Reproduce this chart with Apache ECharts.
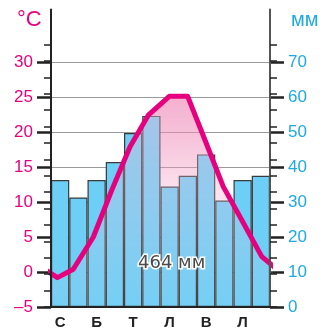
<!DOCTYPE html>
<html>
<head>
<meta charset="utf-8">
<script src="https://cdn.jsdelivr.net/npm/echarts@6/dist/echarts.min.js"></script>
<style>html,body{margin:0;padding:0;background:#fff;}#c{width:320px;height:333px;}</style>
</head>
<body>
<div id="c"></div>
<script>
// Months (Ukrainian initials)
const months = ['С','Л','Б','К','Т','Ч','Л','С','В','Ж','Л','Г'];
// Precipitation, mm
const precipitation = [36.3, 31.3, 36.3, 41.4, 49.7, 54.6, 34.4, 37.5, 43.6, 30.4, 36.3, 37.5];
// Temperature line: position in months along the axis, and value in °C
const tempX = [-0.24, 0.35, 1.22, 2.32, 3.33, 4.33, 5.33, 6.48, 7.49, 8.49, 9.44, 10.52, 11.55, 12.55];
const tempValues = [0.2, -0.8, 0.4, 5.0, 11.7, 17.9, 22.4, 25.1, 25.1, 18.5, 12.2, 7.1, 2.2, 0.0];
// Tick labels
const tempTicks = [-5, 0, 5, 10, 15, 20, 25, 30];
const precipTicks = [0, 10, 20, 30, 40, 50, 60, 70];
const totalLabel = '464 мм';
const tempUnit = '°C';
const precipUnit = 'мм';

const tStep = tempTicks[1] - tempTicks[0];
const pStep = precipTicks[1] - precipTicks[0];
const tMin = tempTicks[0], tMax = tempTicks[tempTicks.length - 1];
const pMin = precipTicks[0], pMax = precipTicks[precipTicks.length - 1];
const tTop = tMax + 1.5 * tStep;   // axis line extends beyond the last label
const pTop = pMax + 1.5 * pStep;

const PINK = '#e6007e';
const BLUE = '#1fa9e1';
const NARROW = '"Liberation Sans Narrow", "Liberation Sans", Arial, sans-serif';

const gridPos = {left: 51, right: 50, bottom: 26};
const chart = echarts.init(document.getElementById('c'), null, {renderer: 'canvas'});

const lineData = tempX.map((x, i) => [x, tempValues[i]]);
const grad = stops => new echarts.graphic.LinearGradient(0, 0, 0, 1, stops);

chart.setOption({
  animation: false,
  backgroundColor: '#fff',
  title: [
    {text: tempUnit, left: 12, top: 4, textStyle: {color: PINK, fontSize: 22, fontWeight: 'normal', fontFamily: NARROW}},
    {text: precipUnit, left: 286, top: 5, textStyle: {color: BLUE, fontSize: 20, fontWeight: 'normal', fontFamily: '"Liberation Sans", Arial, sans-serif'}},
    {text: totalLabel, left: 133, top: 249, z: 20,
     textStyle: {color: '#4a4a4a', fontSize: 18, fontWeight: 'normal', fontFamily: '"DejaVu Sans", sans-serif',
                 textBorderColor: '#fff', textBorderWidth: 3}}
  ],
  grid: [
    Object.assign({top: 9.5}, gridPos),
    Object.assign({top: 44.5}, gridPos),
    Object.assign({top: 62}, gridPos)
  ],
  xAxis: [
    {type: 'category', gridIndex: 0, data: months, boundaryGap: true, z: 5,
     axisLine: {show: true, onZero: false, lineStyle: {color: '#222', width: 2}},
     axisTick: {show: false},
     axisLabel: {interval: 1, color: '#222', fontSize: 15, fontWeight: 'bold', fontFamily: NARROW, margin: 8},
     splitLine: {show: false}},
    {type: 'value', gridIndex: 0, min: 0, max: months.length, show: false},
    {type: 'value', gridIndex: 1, min: 0, max: 1, show: false},
    {type: 'value', gridIndex: 2, min: 0, max: 1, show: false}
  ],
  yAxis: [
    {type: 'value', gridIndex: 0, position: 'left', min: tMin, max: tTop, z: 5,
     axisLine: {show: true, onZero: false, lineStyle: {color: '#222', width: 2}},
     axisTick: {show: false}, axisLabel: {show: false}, splitLine: {show: false}},
    {type: 'value', gridIndex: 0, position: 'right', min: pMin, max: pTop, z: 5,
     axisLine: {show: true, onZero: false, lineStyle: {color: '#555', width: 2}},
     axisTick: {show: false}, axisLabel: {show: false}, splitLine: {show: false}},
    {type: 'value', gridIndex: 1, position: 'left', min: tMin, max: tMax + tStep, interval: tStep / 2, z: 5,
     axisLine: {show: false}, axisTick: {show: true, length: 7, lineStyle: {color: '#222', width: 1.5}},
     axisLabel: {show: false}, splitLine: {show: false}},
    {type: 'value', gridIndex: 1, position: 'right', min: pMin, max: pMax + pStep, interval: pStep / 2, z: 5,
     axisLine: {show: false}, axisTick: {show: true, length: 7, lineStyle: {color: '#222', width: 1.5}},
     axisLabel: {show: false}, splitLine: {show: false}},
    {type: 'value', gridIndex: 2, position: 'left', min: tMin, max: tMax, interval: tStep, z: 0,
     axisLine: {show: false}, axisTick: {show: true, length: 14, lineStyle: {color: '#222', width: 2.5}},
     axisLabel: {color: PINK, fontSize: 17, fontFamily: NARROW, margin: 18,
                 formatter: v => v < 0 ? '–' + Math.abs(v) : String(v)},
     splitLine: {show: true, lineStyle: {color: '#9a9a9a', width: 1}}},
    {type: 'value', gridIndex: 2, position: 'right', min: pMin, max: pMax, interval: pStep, z: 0,
     axisLine: {show: false}, axisTick: {show: true, length: 14, lineStyle: {color: '#222', width: 2.5}},
     axisLabel: {color: BLUE, fontSize: 17, fontFamily: NARROW, margin: 18},
     splitLine: {show: false}}
  ],
  series: [
    // pink area beneath the bars (shows on white background)
    {type: 'line', xAxisIndex: 1, yAxisIndex: 0, data: lineData, clip: false, z: 1,
     symbol: 'none', silent: true,
     lineStyle: {width: 0, opacity: 0},
     areaStyle: {origin: 'start', color: grad([
       {offset: 0, color: 'rgba(215,40,125,0.55)'},
       {offset: 0.45, color: 'rgba(215,40,125,0.10)'},
       {offset: 1, color: 'rgba(215,40,125,0)'}
     ])}},
    {type: 'bar', xAxisIndex: 0, yAxisIndex: 1, data: precipitation,
     barWidth: '100%', barCategoryGap: '0%', z: 2,
     itemStyle: {color: '#6dcff6', borderColor: '#3a3a3a', borderWidth: 1.2}},
    // light pink veil over the bars, plus the temperature line
    {type: 'line', xAxisIndex: 1, yAxisIndex: 0, data: lineData, clip: false, z: 3,
     symbol: 'none',
     lineStyle: {color: PINK, width: 5, join: 'round', cap: 'round'},
     areaStyle: {origin: 'start', color: grad([
       {offset: 0, color: 'rgba(250,180,210,0.62)'},
       {offset: 0.45, color: 'rgba(250,190,215,0.38)'},
       {offset: 1, color: 'rgba(250,200,220,0.08)'}
     ])}}
  ]
});
</script>
</body>
</html>
